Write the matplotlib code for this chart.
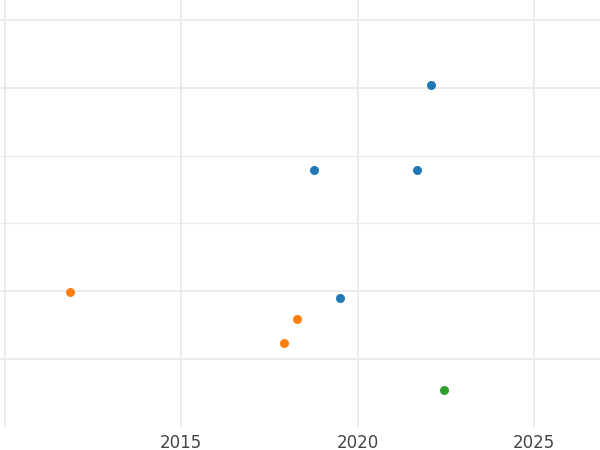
import matplotlib.pyplot as plt

# Data (y axis labels are cut off, so y is in grid units)
blue_x = [2022.08, 2018.77, 2021.69, 2019.50]
blue_y = [5.04, 3.79, 3.79, 1.90]
orange_x = [2011.86, 2018.29, 2017.92]
orange_y = [1.99, 1.59, 1.24]
green_x = [2022.45]
green_y = [0.54]

x_ticks = [2010, 2015, 2020, 2025]
x_labels = ['', '2015', '2020', '2025']

fig = plt.figure(figsize=(6, 4.5), dpi=100)
ax = fig.add_axes([0, 0.0511, 1, 0.9489])

ax.scatter(blue_x, blue_y, s=42, color='#1f77b4', zorder=3, linewidths=0)
ax.scatter(orange_x, orange_y, s=42, color='#ff7f0e', zorder=3, linewidths=0)
ax.scatter(green_x, green_y, s=42, color='#2ca02c', zorder=3, linewidths=0)

ax.set_xlim(2009.87, 2026.87)
ax.set_ylim(-0.003, 6.295)

ax.set_xticks(x_ticks)
ax.set_xticklabels(x_labels)
ax.set_yticks([1, 2, 5, 6])
ax.set_yticks([3, 4], minor=True)
ax.set_yticklabels([])

ax.grid(True, which='major', color='#ebebeb', linewidth=1.4)
ax.grid(True, which='minor', axis='y', color='#ebebeb', linewidth=0.8)
ax.set_axisbelow(True)

ax.tick_params(axis='both', which='both', length=0, labelsize=12,
               labelcolor='#444444', pad=5)
for s in ax.spines.values():
    s.set_visible(False)

fig.savefig('out.png', dpi=100)
